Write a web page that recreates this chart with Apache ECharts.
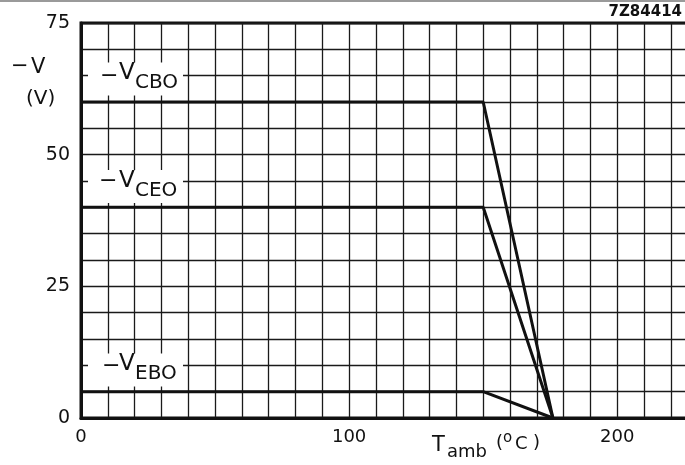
<!DOCTYPE html>
<html>
<head>
<meta charset="utf-8">
<script src="https://cdn.jsdelivr.net/npm/echarts@6/dist/echarts.min.js"></script>
<style>
  html, body { margin: 0; padding: 0; background: #fff; overflow: hidden; }
  #chart { width: 685px; height: 465px; }
</style>
</head>
<body>
<div id="chart"></div>
<script>
// derating curves: -V (V) against T_amb (degC)
var temps = [0, 150, 176];
var vCBO = [60, 60, 0];
var vCEO = [40, 40, 0];
var vEBO = [5, 5, 0];
var xTickLabels = [0, 100, 200];
var yTickLabels = [0, 25, 50, 75];

var FONT = '"DejaVu Sans", "Liberation Sans", sans-serif';
var INK = '#111';

function pairs(ys) {
    return temps.map(function (t, i) { return [t, ys[i]]; });
}

function txt(x, y, s, size, extra) {
    var o = {
        type: 'text', x: x, y: y, z: 110,
        style: { text: s, font: size + 'px ' + FONT, fill: INK, verticalAlign: 'middle' }
    };
    if (extra) for (var k in extra) o.style[k] = extra[k];
    return o;
}

function box(x, y, w, h) {
    return { type: 'rect', z: 100, shape: { x: x, y: y, width: w, height: h }, style: { fill: '#fff' } };
}

// -V with subscript, label drawn over the grid
function vLabel(name, dashX, dashY, vY) {
    return [
        box(88, vY - 11, 95, 33),
        txt(dashX, dashY, '\u2212', 22),
        txt(119, vY, 'V', 23),
        txt(135, vY + 9.5, name, 20)
    ];
}

var myChart = echarts.init(document.getElementById('chart'));

var graphics = [
    { type: 'rect', z: 100, shape: { x: 0, y: 0, width: 685, height: 2 }, style: { fill: '#9a9a9a' } },
    txt(682, 12, '7Z84414', 15, { align: 'right', font: 'bold 15px ' + FONT }),
    txt(11, 67, '\u2212', 21),
    txt(31, 67.5, 'V', 21),
    txt(26, 98.5, '(V)', 20),
    txt(432, 445.5, 'T', 21),
    txt(447, 452, 'amb', 18),
    txt(496, 443, '(', 18),
    txt(503, 438, 'o', 15),
    txt(515, 444, 'C', 18),
    txt(533, 443, ')', 18)
].concat(vLabel('CBO', 100, 76, 73.5))
 .concat(vLabel('CEO', 99, 181, 181))
 .concat(vLabel('EBO', 102, 366, 364.5));

var lineStyle = { color: INK, width: 3 };

var option = {
    animation: false,
    backgroundColor: '#fff',
    grid: {
        left: 81, top: 23, width: 606, height: 395,
        outerBoundsMode: 'none',
        show: true, borderColor: INK, borderWidth: 3
    },
    xAxis: {
        type: 'value', min: 0, max: 226, interval: 10,
        axisLine: { show: true, lineStyle: { color: INK, width: 3 } },
        axisTick: { show: false },
        splitLine: { show: true, lineStyle: { color: '#1a1a1a', width: 1.3 } },
        axisLabel: {
            margin: 10, color: INK, fontSize: 18, fontFamily: FONT,
            formatter: function (v) { return xTickLabels.indexOf(v) >= 0 ? String(v) : ''; }
        }
    },
    yAxis: {
        type: 'value', min: 0, max: 75, interval: 5,
        axisLine: { show: true, lineStyle: { color: INK, width: 3 } },
        axisTick: { show: false },
        splitLine: { show: true, lineStyle: { color: '#1a1a1a', width: 1.3 } },
        axisLabel: {
            margin: 11, color: INK, fontSize: 19, fontFamily: FONT,
            formatter: function (v) { return yTickLabels.indexOf(v) >= 0 ? String(v) : ''; }
        }
    },
    series: [
        { name: 'VCBO', type: 'line', showSymbol: false, lineStyle: lineStyle, data: pairs(vCBO), z: 5 },
        { name: 'VCEO', type: 'line', showSymbol: false, lineStyle: lineStyle, data: pairs(vCEO), z: 5 },
        { name: 'VEBO', type: 'line', showSymbol: false, lineStyle: lineStyle, data: pairs(vEBO), z: 5 }
    ],
    graphic: graphics
};

myChart.setOption(option);
</script>
</body>
</html>
